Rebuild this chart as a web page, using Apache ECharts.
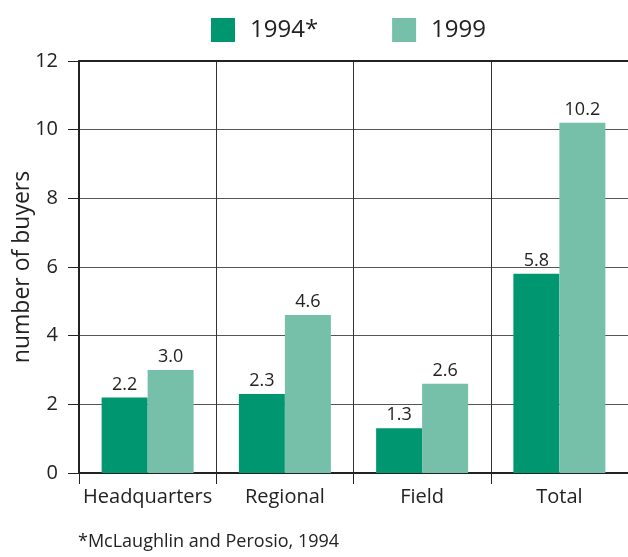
<!DOCTYPE html>
<html>
<head>
<meta charset="utf-8">
<script src="https://cdn.jsdelivr.net/npm/echarts@6/dist/echarts.min.js"></script>
<style>
  html, body { margin: 0; padding: 0; background: #fff; }
  #chart { width: 628px; height: 557px; }
</style>
</head>
<body>
<div id="chart"></div>
<script>
const categories = ['Headquarters', 'Regional', 'Field', 'Total']
const buyers1994 = [2.2, 2.3, 1.3, 5.8]
const buyers1999 = [3.0, 4.6, 2.6, 10.2]
const seriesNames = ['1994*', '1999']
const note = '*McLaughlin and Perosio, 1994'

const font = '"Open Sans", "Noto Sans", sans-serif'
const ink = '#222'

const mychart = echarts.init(document.getElementById('chart'))

const barLabel = {
  show: true,
  position: 'top',
  distance: 4,
  color: ink,
  fontFamily: font,
  fontSize: 18,
  formatter: p => p.value.toFixed(1)
}

mychart.setOption({
  animation: false,
  textStyle: { fontFamily: font },
  legend: {
    left: 206,
    top: 13,
    itemWidth: 24,
    itemHeight: 24,
    itemGap: 74,
    icon: 'rect',
    textStyle: { color: ink, fontSize: 24, fontFamily: font, padding: [0, 0, 0, 10] },
    data: seriesNames
  },
  grid: {
    left: 79,
    top: 61,
    right: 0,
    height: 412
  },
  xAxis: [{
    type: 'category',
    data: categories,
    axisLine: { lineStyle: { color: ink, width: 2 } },
    axisTick: { show: true, interval: 0, length: 11, lineStyle: { color: ink, width: 1 } },
    axisLabel: { interval: 0, color: ink, fontSize: 20, fontFamily: font, margin: 14 },
    splitLine: { show: true, interval: 0, lineStyle: { color: '#333', width: 1 } }
  }, {
    // top frame line
    type: 'category',
    position: 'top',
    data: categories,
    axisLine: { lineStyle: { color: ink, width: 2 } },
    axisTick: { show: false },
    axisLabel: { show: false }
  }],
  yAxis: {
    type: 'value',
    min: 0,
    max: 12,
    interval: 2,
    name: 'number of buyers',
    nameLocation: 'middle',
    nameGap: 45,
    nameMoveOverlap: false,
    nameTextStyle: { color: ink, fontSize: 23, fontFamily: font },
    axisLine: { show: true, lineStyle: { color: ink, width: 2 } },
    axisTick: { show: true, length: 11, lineStyle: { color: ink, width: 1 } },
    axisLabel: { color: ink, fontSize: 20, fontFamily: font, margin: 21 },
    splitLine: { show: true, lineStyle: { color: '#555', width: 1 } }
  },
  series: [{
    name: seriesNames[0],
    type: 'bar',
    data: buyers1994,
    barWidth: 46,
    barGap: '0%',
    itemStyle: { color: '#009670' },
    label: barLabel
  }, {
    name: seriesNames[1],
    type: 'bar',
    data: buyers1999,
    barWidth: 46,
    itemStyle: { color: '#76bfa9' },
    label: barLabel
  }],
  graphic: [{
    type: 'text',
    left: 78,
    top: 533,
    style: { text: note, fill: ink, fontSize: 18, fontFamily: font }
  }]
})
</script>
</body>
</html>
